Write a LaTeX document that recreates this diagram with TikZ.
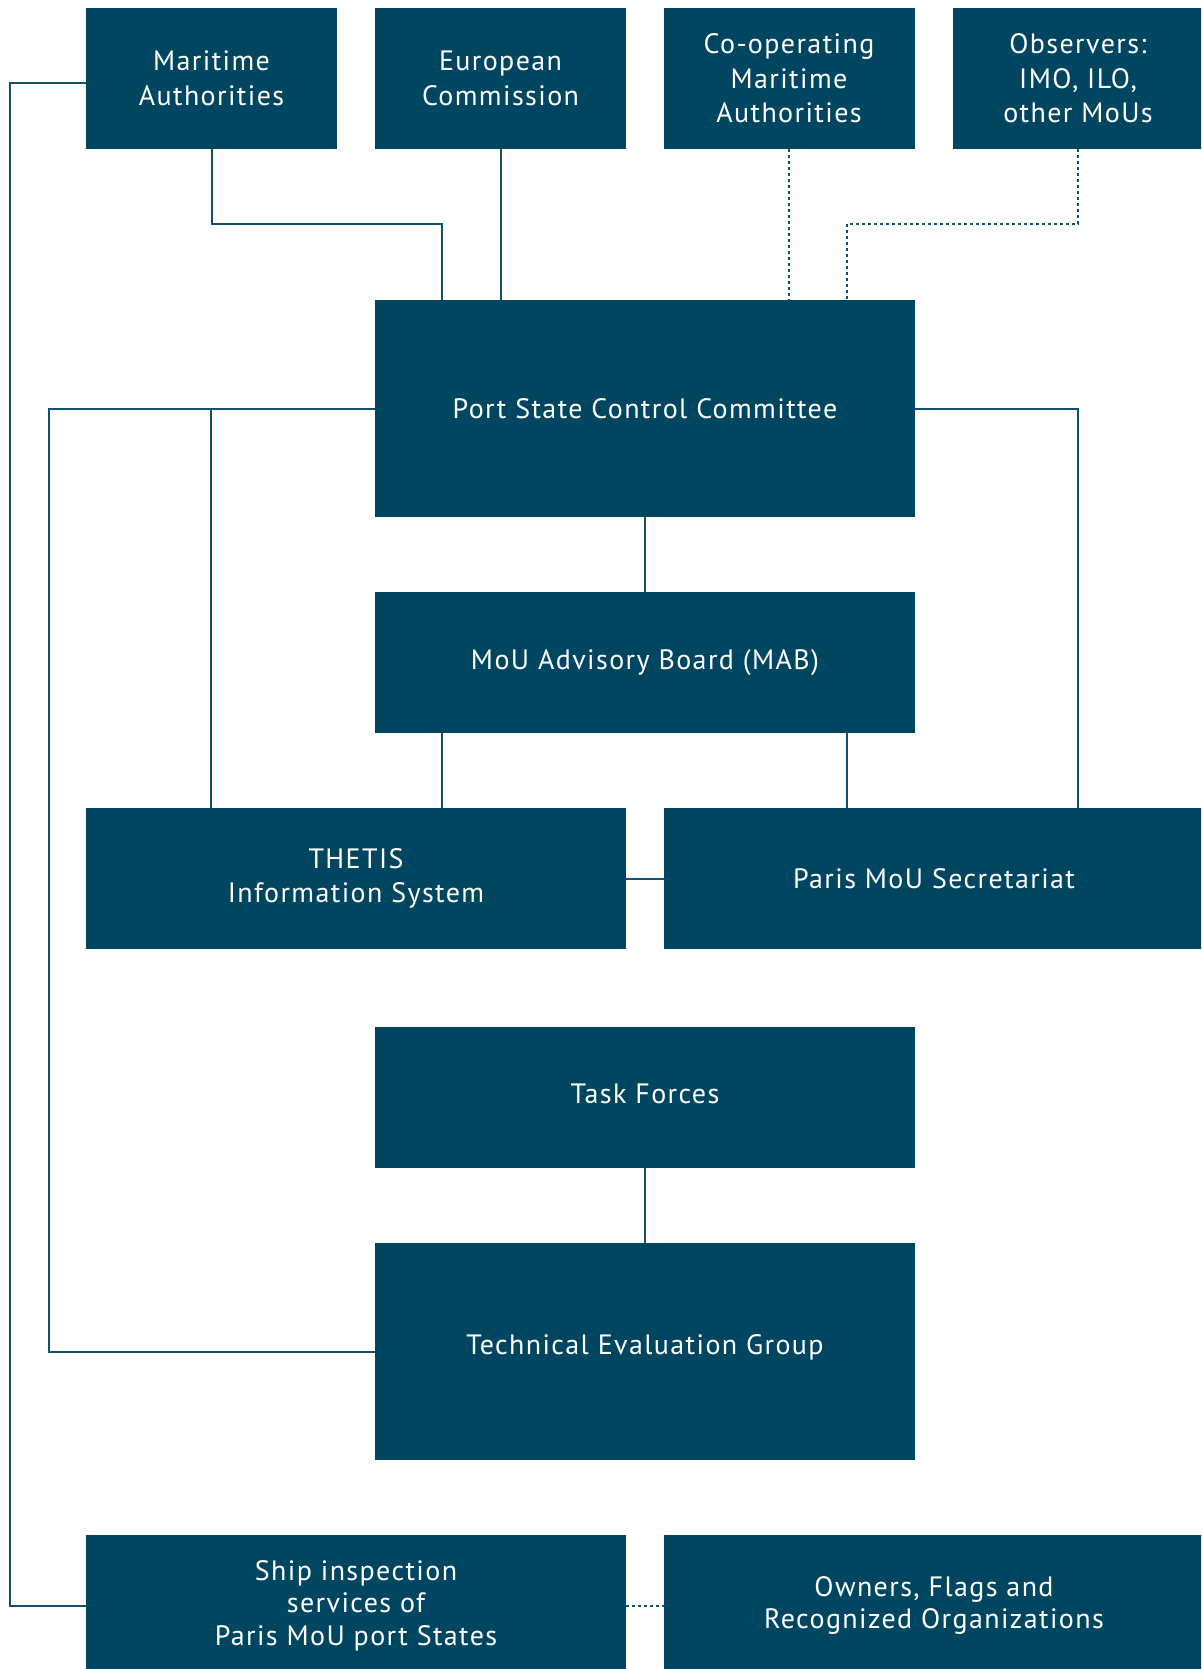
\documentclass[tikz,border=0pt]{standalone}
\usepackage{fontspec}
\setmainfont{PT Sans}[LetterSpace=5]
\definecolor{boxc}{HTML}{004660}
\definecolor{linec}{HTML}{0D5070}
\tikzset{
  box/.style={fill=boxc, text=white, minimum width=270pt, minimum height=70.5pt,
    inner sep=0pt, align=center, font=\fontsize{14pt}{17.3pt}\selectfont},
  sbox/.style={box, minimum width=125.5pt},
  tallbox/.style={minimum height=108.5pt},
  conn/.style={draw=linec, line width=1pt},
  dotconn/.style={conn, dash pattern=on 1.5pt off 1.5pt}
}
\begin{document}
\begin{tikzpicture}[x=0.5pt, y=-0.5pt]
\clip (0,0) rectangle (1201,1669);
\fill[white] (0,0) rectangle (1201,1669);
% nodes
\node[sbox] (ma)   at (211.5,78.5) {Maritime\\Authorities};
\node[sbox] (ec)   at (500.5,78.5) {European\\Commission};
\node[sbox] (coop) at (789,78.5)   {Co-operating\\Maritime\\Authorities};
\node[sbox] (obs)  at (1078,78.5)  {Observers:\\IMO, ILO,\\other MoUs};
\node[box, tallbox] (psc) at (645,408.5) {Port State Control Committee};
\node[box] (mab) at (645,662.5) {MoU Advisory Board (MAB)};
\node[box] (thetis) at (356,878.5) {THETIS\\Information System};
\node[box] (sec) at (934,878.5) {Paris MoU Secretariat};
\node[box] (tf) at (645,1097.5) {\raisebox{2pt}[\height][\depth]{Task Forces}};
\node[box, tallbox] (teg) at (645,1351.5) {\raisebox{2pt}[\height][\depth]{Technical Evaluation Group}};
\node[box, font=\fontsize{14pt}{16.3pt}\selectfont] (ship) at (356,1605.5) {Ship inspection\\services of\\Paris MoU port States};
\node[box, font=\fontsize{14pt}{16.3pt}\selectfont] (own) at (934,1605.5) {Owners, Flags and\\Recognized Organizations};
% coordinates
\coordinate (maL) at (86,83);
% connectors
\draw[conn] (ma.south) |- (442,224) -- (442,300);
\draw[conn] (ec.south) -- (ec.south |- psc.north);
\draw[dotconn] (coop.south) -- (coop.south |- psc.north);
\draw[dotconn] (obs.south) |- (847,224) -- (847,300);
\draw[conn] (psc.west) -| (48.7,1351.5) -- (teg.west);
\draw[conn] (211,408.5) -- (211,808);
\draw[conn] (psc.south) -- (mab.north);
\draw[conn] (442,733) -- (442,808);
\draw[conn] (846.5,733) -- (846.5,808);
\draw[conn] (psc.east) -| (1078,808);
\draw[conn] (thetis.east) -- (sec.west);
\draw[conn] (tf.south) -- (teg.north);
\draw[conn] (maL) -| (10,1605.5) -- (ship.west);
\draw[dotconn] (ship.east) -- (own.west);
\end{tikzpicture}
\end{document}
